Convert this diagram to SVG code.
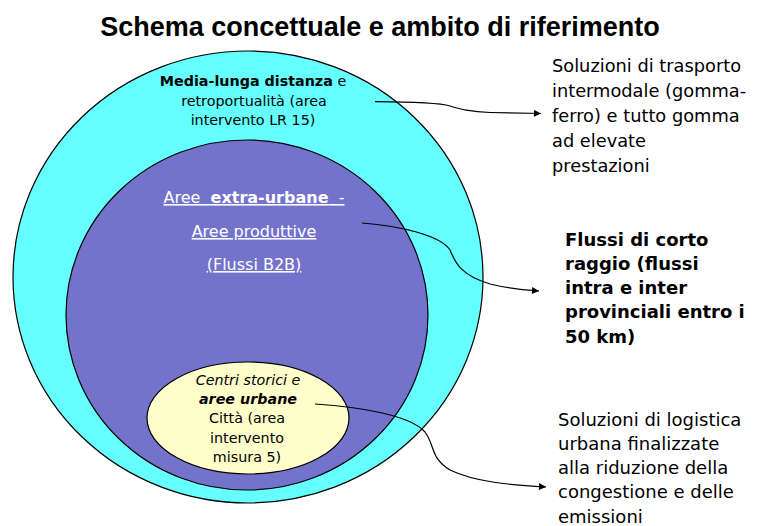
<svg xmlns="http://www.w3.org/2000/svg" width="757" height="526" viewBox="0 0 757 526">
<style>
.t{font-family:"DejaVu Sans","Liberation Sans",sans-serif;fill:#000}
.title{font-family:"Liberation Sans",Arial,sans-serif;font-weight:bold;font-size:27px;fill:#000}
.ring{stroke:#000;stroke-width:1.2}
.w{fill:#fff;text-decoration:underline}
.conn{fill:none;stroke:#000;stroke-width:1.2}
</style>
<defs>
<marker id="arr" viewBox="0 0 10 10" refX="10" refY="5" markerWidth="9" markerHeight="7" markerUnits="userSpaceOnUse" orient="auto">
<path d="M0,0 L10,5 L0,10 z" fill="#000"/>
</marker>
</defs>
<rect width="757" height="526" fill="#fff"/>
<text class="title" x="380" y="36" text-anchor="middle">Schema concettuale e ambito di riferimento</text>

<g id="outer">
<ellipse class="ring" cx="248" cy="277" rx="235" ry="226" fill="#66FFFF"/>
<text class="t" font-size="14.3" text-anchor="middle"><tspan x="253" y="86"><tspan font-weight="bold">Media-lunga distanza</tspan> e</tspan><tspan x="254" y="106">retroportualità (area</tspan><tspan x="253" y="125">intervento LR 15)</tspan></text>
</g>

<g id="middle">
<ellipse class="ring" cx="247" cy="315" rx="181" ry="175" fill="#7373CC"/>
<text class="t w" font-size="16" text-anchor="middle"><tspan x="254" y="203">Aree&#160; <tspan font-weight="bold">extra-urbane</tspan>&#160; -</tspan><tspan x="254" y="237">Aree produttive</tspan><tspan x="254" y="270">(Flussi B2B)</tspan></text>
</g>

<g id="inner">
<ellipse class="ring" cx="248" cy="418" rx="101" ry="56" fill="#FFFFCC"/>
<text class="t" font-size="14.3" text-anchor="middle"><tspan x="248" y="385" font-style="italic">Centri storici e</tspan><tspan x="248" y="404" font-style="italic" font-weight="bold">aree urbane</tspan><tspan x="247" y="423">Città (area</tspan><tspan x="247" y="443">intervento</tspan><tspan x="247" y="462">misura 5)</tspan></text>
</g>

<g id="label-top">
<text class="t" font-size="17.8"><tspan x="552" y="72">Soluzioni di trasporto</tspan><tspan x="552" y="97">intermodale (gomma-</tspan><tspan x="552" y="122">ferro) e tutto gomma</tspan><tspan x="552" y="147">ad elevate</tspan><tspan x="552" y="172">prestazioni</tspan></text>
</g>

<g id="label-mid">
<text class="t" font-size="18" font-weight="bold"><tspan x="565" y="246">Flussi di corto</tspan><tspan x="565" y="270">raggio (flussi</tspan><tspan x="565" y="294">intra e inter</tspan><tspan x="565" y="318">provinciali entro i</tspan><tspan x="565" y="343">50 km)</tspan></text>
</g>

<g id="label-bottom">
<text class="t" font-size="18"><tspan x="558" y="426">Soluzioni di logistica</tspan><tspan x="558" y="450">urbana finalizzate</tspan><tspan x="558" y="474">alla riduzione della</tspan><tspan x="558" y="498">congestione e delle</tspan><tspan x="558" y="523">emissioni</tspan></text>
</g>

<g id="connectors">
<path class="conn" marker-end="url(#arr)" d="M375,101.7 C420,102 440,103 450,106 S470,112 490,112.5 L541,113.5"/>
<path class="conn" marker-end="url(#arr)" d="M362,223 C400,226 440,235 450,250 C455,262 460,275 490,284 C510,289 525,290 539,291"/>
<path class="conn" marker-end="url(#arr)" d="M315,404 C360,407 410,415 425,432 C435,445 430,458 450,470 C475,482 510,485 546,487"/>
</g>
</svg>
